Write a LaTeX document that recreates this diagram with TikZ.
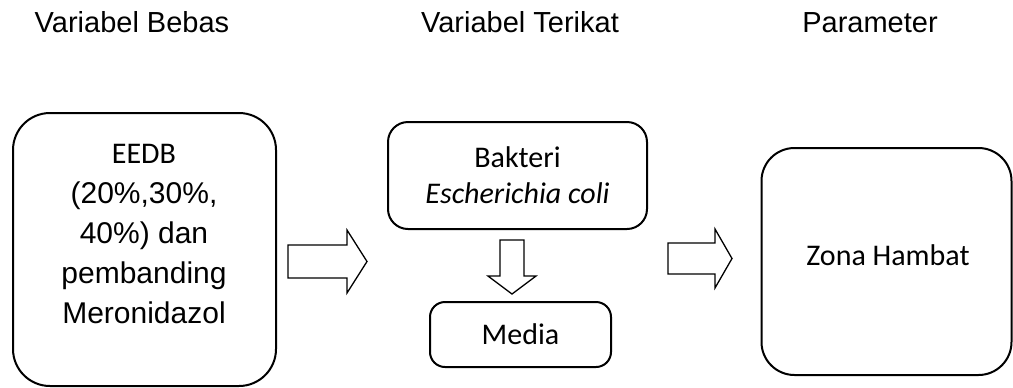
\documentclass[tikz,border=0pt]{standalone}
\usepackage{fontspec}
\setmainfont{Liberation Sans}
\newfontfamily\calibrifont{Carlito}
\tikzset{
  varbox/.style={draw,line width=1pt,inner sep=0pt},
  blockarrow/.style={draw,line width=0.65pt,line join=miter},
  header/.style={font=\fontsize{14.5}{17}\selectfont,anchor=base},
  boxtext/.style={font=\fontsize{15}{20}\selectfont,align=center},
  cbtext/.style={font=\calibrifont\fontsize{15}{18}\selectfont,align=center}
}

\begin{document}
\begin{tikzpicture}[x=0.5pt,y=-0.5pt]
    \useasboundingbox (0,0) rectangle (1013,387);
    % judul kolom
    \node[header] (hbebas) at (132,32) {Variabel Bebas};
    \node[header] (hterikat) at (520,32) {Variabel Terikat};
    \node[header] (hparam) at (870,32) {Parameter};

    % variabel bebas
    \node[varbox,rounded corners=18.5pt,minimum width=131.5pt,minimum height=136.5pt] (bebas) at (144.5,249.5) {};
    \node[boxtext] (bebastext) at (144,234) {{\calibrifont EEDB}\\(20\%,30\%,\\40\%) dan\\pembanding\\Meronidazol};

    % variabel terikat
    \node[varbox,cbtext,rounded corners=10pt,minimum width=129.5pt,minimum height=53.5pt] (bakteri) at (517.5,175.5) {Bakteri\\\textit{Escherichia coli}};
    \node[varbox,cbtext,rounded corners=7.5pt,minimum width=90.5pt,minimum height=32.5pt] (media) at (520.5,334.5) {Media};

    % parameter
    \node[varbox,rounded corners=16.5pt,minimum width=125pt,minimum height=113.5pt] (zona) at (886.5,261.5) {};
    \node[cbtext,anchor=base] (zonatext) at (888,265) {Zona Hambat};

    % panah blok
    \draw[blockarrow] (288,245) -- (347,245) -- (347,230) -- (367,261.5) -- (347,293) -- (347,278) -- (288,278) -- cycle;
    \draw[blockarrow] (668,243) -- (715,243) -- (715,229) -- (732,258.5) -- (715,288) -- (715,274) -- (668,274) -- cycle;
    \draw[blockarrow] (500,240) -- (500,276) -- (488,276) -- (512,294) -- (536,276) -- (524,276) -- (524,240) -- cycle;
  \end{tikzpicture}
\end{document}
